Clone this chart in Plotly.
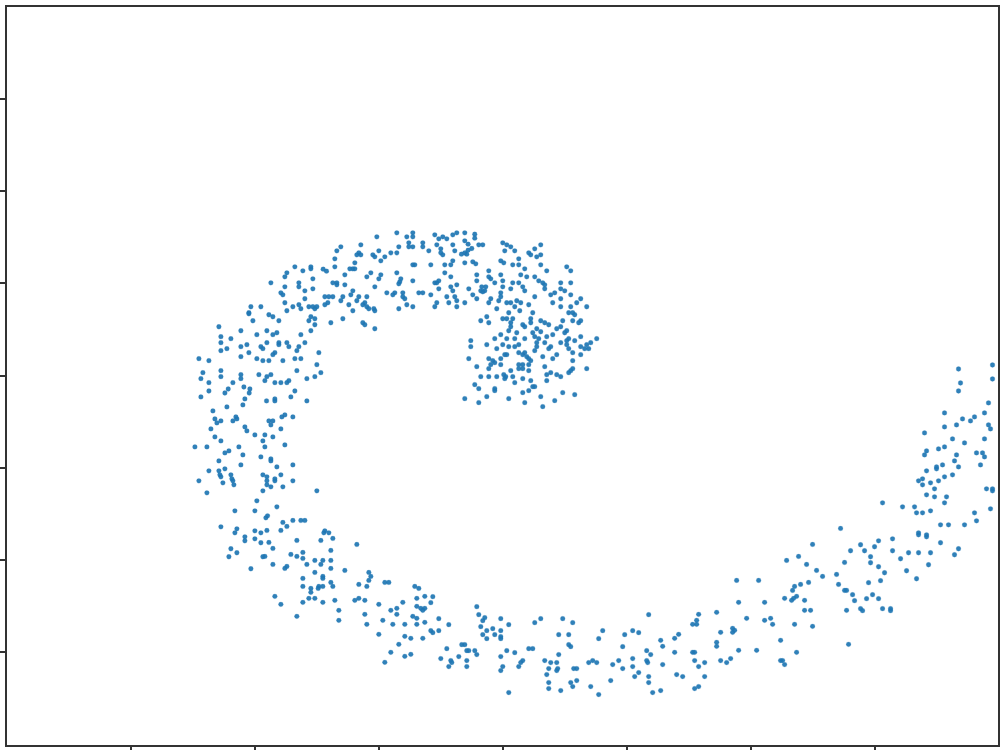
import plotly.graph_objects as go

# Points read from magnified views (3x) of each part of the spiral: (origin x, origin y) + reading / 3
arm_upper_left = [(273,188),(345,140),(393,140),(393,146),(369,152),(321,158),(315,170),(399,176),(357,188),(357,200),(315,200),(303,218),(309,224),(399,206),(375,212),(375,236),(315,248),(213,260),(243,260),(207,278),(207,281),(321,272),(339,260),(357,254),(363,266),(387,260),(399,260),(405,266),(411,260),(267,284),(279,290),(297,302),(219,302),(393,290),(387,302),(405,296),(405,314),(117,320),(183,332),(261,332),(231,344),(279,344),(291,338),(393,332),(363,344),(123,350),(153,356),(123,368),(201,374),(183,380),(261,368),(243,380),(249,386),(297,368),(297,374),(321,368),(327,380),(375,368),(357,380),(351,392),(123,392),(141,386),(207,398),(183,410),(285,398),(279,404),(417,398),(231,416),(249,422),(267,422),(309,422),(345,416),(363,416),(57,416),(87,422),(411,434),(351,452),(423,458),(405,470),(381,476),(69,458),(123,452),(123,470),(183,464),(183,476),(63,476),(237,464),(273,464),(261,470),(255,482),(87,488),(159,488),(285,488),(303,488),(321,488),(327,482)]
arm_top = [(171,50),(231,38),(261,50),(279,38),(279,50),(345,44),(357,56),(369,50),(381,56),(399,44),(411,38),(63,80),(51,92),(123,74),(267,68),(237,80),(267,80),(279,80),(309,68),(309,80),(351,74),(399,74),(327,92),(363,86),(363,98),(369,104),(405,92),(177,92),(213,98),(231,98),(117,98),(111,104),(123,104),(159,104),(165,110),(195,110),(183,122),(45,116),(105,128),(45,140),(10,147),(20,153),(90,146),(99,146),(105,146),(399,122),(393,134),(375,134),(333,134),(279,134),(285,134),(75,164),(153,158),(141,170),(183,164),(177,176),(231,158),(375,158),(393,170),(243,176),(240,185),(237,191),(279,182),(39,188),(51,188),(51,194),(75,194),(165,200),(345,188),(351,188),(357,182),(411,194),(393,200),(357,206),(399,212),(99,212),(93,224),(201,218),(225,218),(219,224),(249,218),(297,218),(309,218),(333,224),(15,230),(27,230),(39,230),(69,230),(63,242),(117,230),(111,242),(141,230),(249,230),(255,236),(381,230),(405,230),(411,242),(351,248),(387,248),(15,254),(24,248),(87,254),(129,254),(135,248),(141,260),(147,266),(162,266),(165,272),(261,254),(279,260),(345,260),(411,260),(237,266),(99,272),(33,308),(69,296),(129,308),(135,314),(165,326)]
arm_centre = [(15,8),(45,12),(45,24),(15,32),(25,42),(57,44),(69,44),(36,55),(25,60),(15,68),(5,72),(21,72),(15,98),(39,95),(48,101),(129,38),(141,44),(153,50),(165,62),(135,62),(243,44),(225,56),(207,68),(213,74),(243,74),(231,80),(177,86),(123,92),(132,98),(159,104),(177,104),(243,104),(195,116),(261,122),(321,110),(333,122),(51,134),(87,122),(87,140),(123,134),(51,152),(93,146),(105,158),(129,152),(183,134),(201,140),(225,140),(237,152),(249,158),(255,164),(303,158),(333,158),(159,158),(177,158),(129,170),(153,176),(189,170),(255,176),(27,176),(66,170),(78,170),(63,182),(75,182),(69,185),(303,176),(315,182),(123,188),(195,182),(285,188),(273,194),(225,200),(333,194),(39,194),(51,206),(93,206),(123,200),(303,206),(363,206),(87,218),(117,212),(15,218),(141,218),(153,218),(171,212),(183,218),(207,224),(279,218),(351,218),(303,230),(333,230),(381,230),(111,236),(165,230),(180,242),(327,248),(339,248),(345,254),(219,248),(147,248),(81,260),(63,272),(87,278),(129,266),(141,266),(159,266),(153,278),(213,266),(243,272),(255,278),(267,284),(309,272),(339,272),(363,272),(357,278),(189,284),(195,290),(213,278),(303,290),(291,296),(153,290),(147,302),(231,296),(243,305),(219,308),(279,314),(321,302),(315,308),(171,308),(123,314),(105,326),(141,326),(165,326),(195,326),(225,320),(237,326),(261,320),(33,332),(33,350),(81,344),(111,356),(129,344),(147,350),(165,350),(177,344),(231,338),(231,350),(225,362),(255,338),(273,350),(267,356),(303,338),(321,332),(327,326),(345,332),(363,320),(411,326),(321,344),(327,356),(339,368),(363,350),(381,344),(393,338),(387,356),(375,356),(363,374),(279,386),(291,374),(249,380),(27,386),(87,386),(99,392),(123,386),(135,374),(141,374),(177,368),(189,374),(195,368),(201,380),(207,386),(213,392),(339,392),(93,404),(105,398),(51,410),(87,416),(123,404),(177,404),(189,404),(177,416),(189,416),(207,404),(255,410),(381,416),(339,416),(333,422),(327,428),(63,440),(87,440),(111,440),(132,434),(138,440),(135,446),(153,422),(159,440),(165,458),(189,446),(207,422),(213,452),(261,434),(261,452),(273,428),(291,434),(303,440),(45,464),(57,476),(105,476),(105,482),(189,488),(207,482),(219,470),(225,470),(243,500),(309,488),(345,494),(15,506),(57,518),(81,500),(147,506),(195,518),(249,530),(285,512)]
arm_left = [(177,6),(195,12),(130,12),(72,18),(120,24),(193,24),(48,36),(180,42),(245,48),(270,42),(270,48),(318,36),(330,18),(366,48),(174,60),(126,66),(84,78),(90,102),(96,114),(108,108),(144,108),(153,96),(156,102),(252,108),(264,108),(258,120),(291,96),(300,90),(324,96),(78,132),(180,126),(186,138),(288,132),(90,156),(108,168),(210,150),(240,150),(264,156),(234,168),(30,186),(66,186),(162,186),(240,186),(300,180),(132,198),(120,204),(174,210),(228,216),(258,222),(258,228),(102,228),(168,240),(276,246),(324,240),(72,258),(120,252),(102,258),(105,270),(108,276),(138,270),(141,282),(234,270),(246,276),(288,270),(270,282),(270,288),(42,288),(114,294),(144,288),(147,300),(246,288),(246,300),(258,306),(324,288),(294,306),(66,324),(234,318),(396,318),(216,348),(276,366),(150,378),(210,378),(108,426),(156,432),(150,444),(210,438),(228,444),(180,456),(180,468),(210,462),(228,474),(138,492),(156,504),(132,516),(234,516),(198,552)]
arm_lower_left = [(3,24),(8,18),(54,38),(66,50),(84,32),(108,32),(120,32),(48,62),(6,62),(180,63),(177,69),(192,69),(204,86),(168,92),(96,92),(12,98),(24,116),(276,104),(198,122),(78,134),(96,140),(114,128),(114,146),(0,140),(150,152),(174,152),(168,164),(198,152),(126,164),(24,164),(66,170),(60,176),(198,176),(240,182),(150,188),(312,188),(318,200),(312,212),(174,200),(174,206),(114,206),(198,218),(204,230),(282,224),(306,230),(360,218),(372,218),(450,230),(462,236),(114,230),(138,236),(162,230),(174,230),(160,236),(138,248),(30,260),(132,266),(150,266),(282,266),(270,272),(300,272),(456,266),(480,260),(210,272),(114,278),(174,278),(48,284),(342,284),(414,278),(456,290),(468,296),(480,296),(474,302),(396,296),(378,302),(222,302),(300,314),(396,314),(96,320),(444,320),(456,326),(222,332),(354,332),(306,344),(384,344),(420,344),(456,344),(480,338),(342,374),(420,380),(438,386),(474,386),(402,404),(378,428),(420,440),(438,434),(360,458)]
arm_bottom = [(9,6),(3,24),(27,72),(57,90),(3,108),(9,114),(27,108),(141,36),(147,60),(165,69),(159,78),(213,72),(237,90),(153,96),(171,108),(189,102),(213,108),(195,120),(159,120),(171,132),(213,126),(213,132),(333,72),(315,84),(399,72),(429,84),(519,108),(507,132),(387,120),(417,120),(609,108),(627,114),(585,120),(51,162),(33,192),(96,150),(105,150),(111,168),(117,168),(135,168),(141,180),(87,186),(111,198),(111,216),(63,198),(66,204),(57,216),(213,186),(231,168),(255,174),(297,162),(309,162),(279,198),(273,204),(267,216),(219,216),(213,228),(345,198),(363,204),(381,204),(387,180),(417,150),(423,156),(357,222),(384,222),(381,228),(351,240),(357,264),(357,282),(393,288),(423,264),(429,276),(441,258),(432,222),(441,222),(477,204),(489,198),(501,204),(549,210),(567,198),(579,222),(579,156),(609,192),(609,216),(627,234),(615,246),(543,258),(483,276),(507,300),(237,294)]
arm_lower_right = [(603,26),(519,74),(477,110),(441,122),(501,134),(615,128),(531,152),(591,164),(549,170),(291,182),(357,182),(483,194),(507,188),(465,200),(459,212),(597,194),(615,212),(621,212),(471,230),(435,236),(462,236),(456,242),(495,242),(297,248),(375,248),(495,272),(513,272),(621,272),(231,278),(177,284),(27,285),(171,302),(171,314),(159,314),(321,296),(375,302),(393,296),(399,314),(465,314),(519,320),(279,326),(279,338),(285,332),(243,338),(117,344),(105,356),(63,362),(423,362),(627,374),(231,368),(231,380),(69,380),(21,393),(33,405),(105,398),(159,398),(165,398),(297,392),(351,392),(471,398),(21,423),(24,429),(69,435),(165,423),(195,429),(177,441),(243,423),(261,429),(273,417),(423,423),(429,423),(435,435),(27,471),(111,465),(129,471),(195,471),(27,489),(63,513),(39,519),(165,507),(177,501)]
arm_right = [(327,42),(429,30),(429,72),(333,84),(327,108),(417,144),(285,174),(405,174),(375,186),(363,198),(339,192),(321,210),(285,216),(417,210),(423,222),(225,234),(309,252),(405,252),(345,264),(285,276),(267,282),(231,288),(225,300),(381,294),(399,294),(405,306),(321,300),(315,318),(393,330),(279,330),(261,336),(261,342),(327,336),(231,348),(309,360),(285,366),(267,378),(207,378),(219,372),(243,384),(219,390),(255,402),(411,402),(429,402),(429,408),(231,420),(255,426),(291,426),(285,444),(99,444),(159,456),(195,456),(201,474),(219,474),(243,468),(423,462),(375,474),(381,498),(273,510),(297,510),(345,510),(207,534),(207,540),(231,540),(231,546),(129,552),(87,558),(33,570),(75,576),(273,564),(327,582),(3,588),(45,588),(129,588),(177,594),(207,594),(243,594),(315,600),(63,606),(153,612),(63,624),(237,630),(87,636),(171,648),(105,654),(93,678),(57,684),(201,672),(9,720),(69,720),(15,738),(51,732),(87,732),(33,762),(39,768),(99,762),(123,762),(123,768)]

arm_origins = [(180,220),(320,220),(460,230),(185,385),(265,510),(430,595),(640,520),(850,355)]
x_ticks = [131,255,379,503,627,751,875]
y_ticks = [98.5,190.5,283,375.5,468,560.5,652.5]

arms = [arm_upper_left,arm_top,arm_centre,arm_left,arm_lower_left,arm_bottom,arm_lower_right,arm_right]
xs, ys = [], []
for arm, (ox, oy) in zip(arms, arm_origins):
    for a, b in arm:
        xs.append(ox + a / 3)
        ys.append(oy + b / 3)

L, R, T, B = 7.0, 998.5, 6.5, 745.5
fig = go.Figure(go.Scatter(x=xs, y=ys, mode="markers", cliponaxis=True,
    marker=dict(size=4.8, color="#1f77b4", opacity=0.92, line=dict(width=0.6, color="rgba(31,119,180,0.3)"))))
axis = dict(automargin=False, showgrid=False, zeroline=False, showticklabels=False, ticks="outside", ticklen=6,
            tickwidth=2, tickcolor="#333333", showline=True, linewidth=2, linecolor="#333333", mirror=True)
fig.update_xaxes(range=[L, R], tickmode="array", tickvals=x_ticks, **axis)
fig.update_yaxes(range=[B, T], tickmode="array", tickvals=y_ticks, **axis)
fig.update_layout(width=1004, height=750, autosize=False, showlegend=False,
    paper_bgcolor="white", plot_bgcolor="white",
    margin=dict(l=L, r=1004 - R, t=T, b=750 - B, pad=0))
fig.write_html("out.html", config={"displayModeBar": False},
               post_script="document.body.style.margin='0';document.documentElement.style.overflow='hidden';")
